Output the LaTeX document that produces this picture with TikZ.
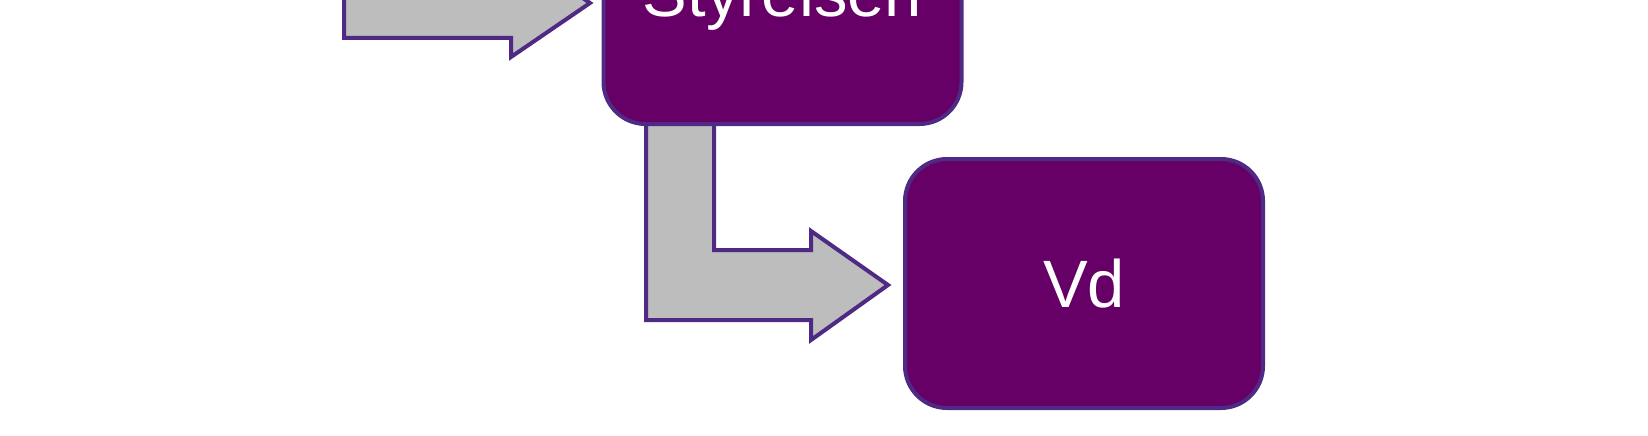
\documentclass[tikz,border=0pt]{standalone}
\usepackage{fontspec}
\setmainfont{Liberation Sans}
\definecolor{boxfill}{HTML}{660066}
\definecolor{edge}{HTML}{4E2A84}
\definecolor{arrowfill}{HTML}{BDBDBD}
\begin{document}
\begin{tikzpicture}[x=1pt,y=-1pt,
  orgbox/.style={draw=edge, fill=boxfill, line width=4pt, rounded corners=42pt,
    minimum width=358pt, minimum height=249pt, inner sep=0pt,
    text=white, font=\fontsize{67}{80}\selectfont},
  blockarrow/.style={draw=edge, fill=arrowfill, line width=4pt, line join=miter}]
\useasboundingbox (0,0) rectangle (1648,436);
\clip (0,0) rectangle (1648,436);
% arrows first
\draw[blockarrow] (344,-140) -- (344,38) -- (511,38) -- (511,57) -- (590,3) -- (511,-51) -- (511,-32) -- (412,-32) -- (412,-140) -- cycle;
\draw[blockarrow] (646,100) -- (646,320) -- (811,320) -- (811,340) -- (888,285) -- (811,231) -- (811,250) -- (714,250) -- (714,100) -- cycle;
% boxes
\node[orgbox] (sty) at (782.5,-0.5) {Styrelsen};
\node[orgbox] (vd) at (1084,283.5) {Vd};
\end{tikzpicture}
\end{document}
